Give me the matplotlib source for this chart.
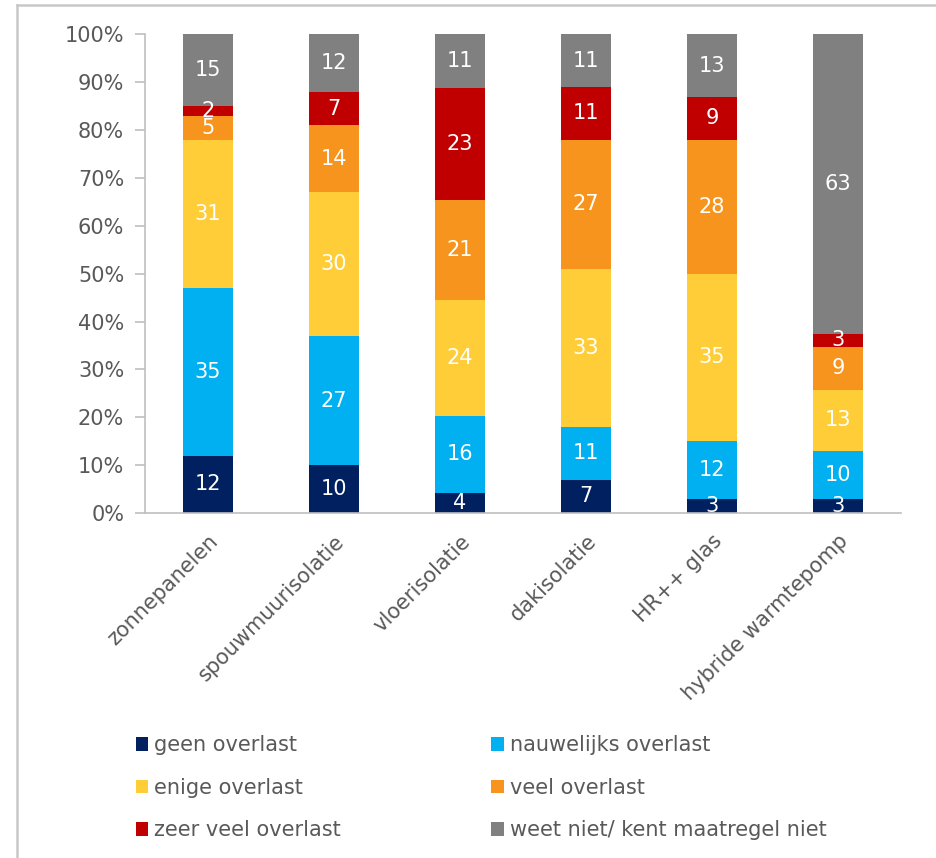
"""Stacked 100% bars: reported nuisance per energy-saving measure."""
import matplotlib

matplotlib.use("Agg")
import matplotlib.pyplot as plt
import numpy as np
from matplotlib.lines import Line2D
from matplotlib.patches import Patch
from matplotlib.ticker import PercentFormatter

# Measures (x categories)
measures = [
    "zonnepanelen",
    "spouwmuurisolatie",
    "vloerisolatie",
    "dakisolatie",
    "HR++ glas",
    "hybride warmtepomp",
]

# Share of respondents per answer, percent (bottom to top)
geen_overlast = [12, 10, 4.2, 7, 3, 3.0]
nauwelijks_overlast = [35, 27, 16.1, 11, 12, 10.0]
enige_overlast = [31, 30, 24.2, 33, 35, 12.8]
veel_overlast = [5, 14, 20.9, 27, 28, 8.9]
zeer_veel_overlast = [2, 7, 23.4, 11, 9, 2.7]
weet_niet = [15, 12, 11.2, 11, 13, 62.6]

series_names = [
    "geen overlast",
    "nauwelijks overlast",
    "enige overlast",
    "veel overlast",
    "zeer veel overlast",
    "weet niet/ kent maatregel niet",
]
series_values = [
    geen_overlast,
    nauwelijks_overlast,
    enige_overlast,
    veel_overlast,
    zeer_veel_overlast,
    weet_niet,
]
series_colors = ["#002060", "#00B0F0", "#FFCD38", "#F7941D", "#C00000", "#808080"]

TEXT_GREY = "#595959"
AXIS_GREY = "#BFBFBF"
FONT_SIZE = 15

plt.rcParams["font.family"] = "DejaVu Sans"

fig = plt.figure(figsize=(9.36, 8.58), dpi=100)
ax = fig.add_axes([0.155, 0.4021, 0.8076, 0.5577])

x = np.arange(len(measures))
bottom = np.zeros(len(measures))
for name, values, color in zip(series_names, series_values, series_colors):
    values = np.asarray(values, dtype=float)
    bars = ax.bar(x, values, width=0.4, bottom=bottom, color=color, label=name)
    ax.bar_label(
        bars,
        labels=[f"{v:.0f}" for v in values],
        label_type="center",
        color="white",
        fontsize=FONT_SIZE,
    )
    bottom += values

ax.set_xlim(-0.5, len(measures) - 0.5)
ax.set_ylim(0, 100)
ax.set_yticks(np.arange(0, 101, 10))
ax.yaxis.set_major_formatter(PercentFormatter(decimals=0))

ax.set_xticks(x)
ax.set_xticklabels(measures, rotation=45, ha="right", va="top", rotation_mode="anchor")
ax.tick_params(axis="x", length=0, pad=13, labelsize=FONT_SIZE, labelcolor=TEXT_GREY)
ax.tick_params(axis="y", length=7, width=1.2, color=AXIS_GREY, pad=8,
               labelsize=FONT_SIZE, labelcolor=TEXT_GREY)

for side in ("top", "right"):
    ax.spines[side].set_visible(False)
for side in ("left", "bottom"):
    ax.spines[side].set_color(AXIS_GREY)
    ax.spines[side].set_linewidth(1.2)

# Legend in two columns, filled row by row
order = [0, 2, 4, 1, 3, 5]
handles = [Patch(facecolor=series_colors[i], edgecolor="none") for i in order]
labels = [series_names[i] for i in order]
fig.legend(
    handles,
    labels,
    ncol=2,
    loc="upper left",
    bbox_to_anchor=(0.145, 0.143),
    bbox_transform=fig.transFigure,
    frameon=False,
    fontsize=FONT_SIZE,
    labelcolor=TEXT_GREY,
    handlelength=0.6,
    handleheight=0.6,
    handletextpad=0.3,
    columnspacing=7.2,
    labelspacing=1.08,
    borderpad=0,
    borderaxespad=0,
)

# Thin grey frame around the chart area
fig.add_artist(Line2D([17 / 936, 1], [1 - 5 / 858] * 2, color="#C8C8C8", lw=1.8,
                      transform=fig.transFigure))
fig.add_artist(Line2D([17 / 936] * 2, [0, 1 - 5 / 858], color="#C8C8C8", lw=1.8,
                      transform=fig.transFigure))

fig.savefig("out.png", dpi=100, facecolor="white")
